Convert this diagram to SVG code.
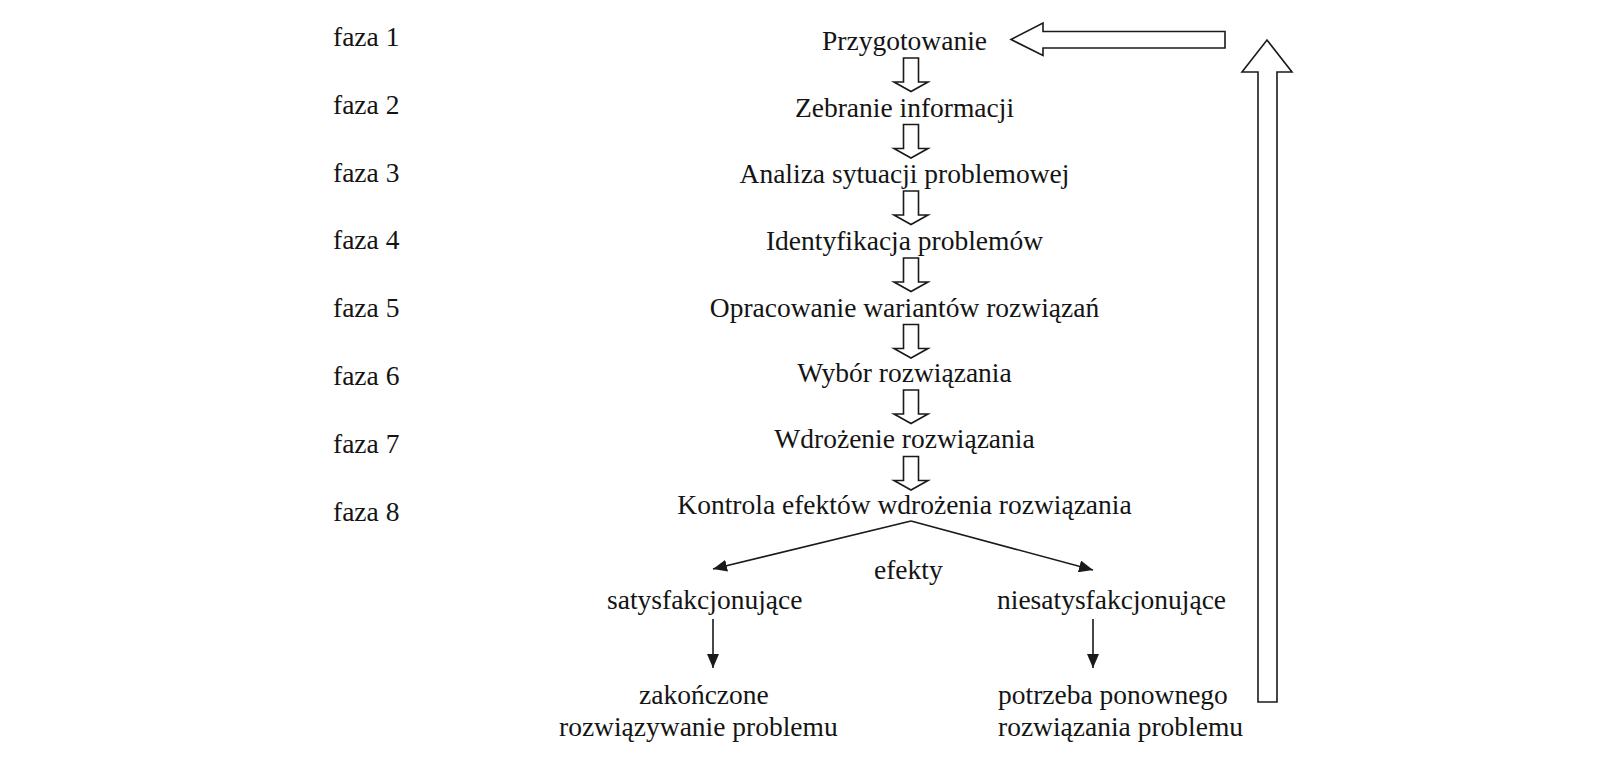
<svg xmlns="http://www.w3.org/2000/svg" xmlns:xlink="http://www.w3.org/1999/xlink" width="1600" height="760" viewBox="0 0 1600 760">
  <style>
    text { font-family: "Liberation Serif", "Times New Roman", serif; font-size: 27.5px; fill: #141414; }
    .c { text-anchor: middle; }
    .hollow { fill: #ffffff; stroke: #1a1a1a; stroke-width: 1.6; stroke-linejoin: miter; }
    .thin { fill: none; stroke: #1a1a1a; stroke-width: 1.6; }
  </style>
  <defs>
    <path id="downArrow" class="hollow" d="M -7.5,0 L 7.5,0 L 7.5,24 L 17,24 L 0,33.5 L -17,24 L -7.5,24 Z"/>
    <marker id="tri" viewBox="0 0 14 12" refX="14" refY="6" markerWidth="14" markerHeight="12" markerUnits="userSpaceOnUse" orient="auto">
      <path d="M 0,0 L 14,6 L 0,12 Z" fill="#1a1a1a"/>
    </marker>
  </defs>
  <rect width="1600" height="760" fill="#ffffff"/>

  <g id="phase-labels">
    <text x="333" y="46">faza 1</text>
    <text x="333" y="113.8">faza 2</text>
    <text x="333" y="181.6">faza 3</text>
    <text x="333" y="249.4">faza 4</text>
    <text x="333" y="317.2">faza 5</text>
    <text x="333" y="385">faza 6</text>
    <text x="333" y="452.8">faza 7</text>
    <text x="333" y="520.6">faza 8</text>
  </g>

  <g id="n1"><text class="c" x="904.5" y="50">Przygotowanie</text></g>
  <g id="n2"><text class="c" x="904.5" y="116.5">Zebranie informacji</text></g>
  <g id="n3"><text class="c" x="904.5" y="183">Analiza sytuacji problemowej</text></g>
  <g id="n4"><text class="c" x="904.5" y="250">Identyfikacja problemów</text></g>
  <g id="n5"><text class="c" x="904.5" y="316.5">Opracowanie wariantów rozwiązań</text></g>
  <g id="n6"><text class="c" x="904.5" y="382">Wybór rozwiązania</text></g>
  <g id="n7"><text class="c" x="904.5" y="448">Wdrożenie rozwiązania</text></g>
  <g id="n8"><text class="c" x="904.5" y="514">Kontrola efektów wdrożenia rozwiązania</text></g>
  <g id="efekty"><text x="874" y="579">efekty</text></g>
  <g id="sat"><text x="607" y="609">satysfakcjonujące</text></g>
  <g id="niesat"><text x="997" y="609">niesatysfakcjonujące</text></g>
  <g id="end-ok">
    <text x="639" y="704">zakończone</text>
    <text x="559" y="736">rozwiązywanie problemu</text>
  </g>
  <g id="end-again">
    <text x="998" y="704">potrzeba ponownego</text>
    <text x="998" y="736">rozwiązania problemu</text>
  </g>

  <g id="connectors">
    <use xlink:href="#downArrow" href="#downArrow" transform="translate(911,58)"/>
    <use xlink:href="#downArrow" href="#downArrow" transform="translate(911,124.5)"/>
    <use xlink:href="#downArrow" href="#downArrow" transform="translate(911,191)"/>
    <use xlink:href="#downArrow" href="#downArrow" transform="translate(911,258)"/>
    <use xlink:href="#downArrow" href="#downArrow" transform="translate(911,324.5)"/>
    <use xlink:href="#downArrow" href="#downArrow" transform="translate(911,390)"/>
    <use xlink:href="#downArrow" href="#downArrow" transform="translate(911,456.5)"/>

    <path class="thin" d="M 911,521 L 713,569" marker-end="url(#tri)"/>
    <path class="thin" d="M 911,521 L 1093,570" marker-end="url(#tri)"/>
    <path class="thin" d="M 713,619 L 713,668" marker-end="url(#tri)"/>
    <path class="thin" d="M 1093,619 L 1093,668" marker-end="url(#tri)"/>

    <path class="hollow" d="M 1258,702 L 1277,702 L 1277,72 L 1292,72 L 1267,40 L 1242,72 L 1258,72 Z"/>
    <path class="hollow" d="M 1225,31.5 L 1225,48 L 1043,48 L 1043,55.5 L 1011,39.5 L 1043,23 L 1043,31.5 Z"/>
  </g>
</svg>
